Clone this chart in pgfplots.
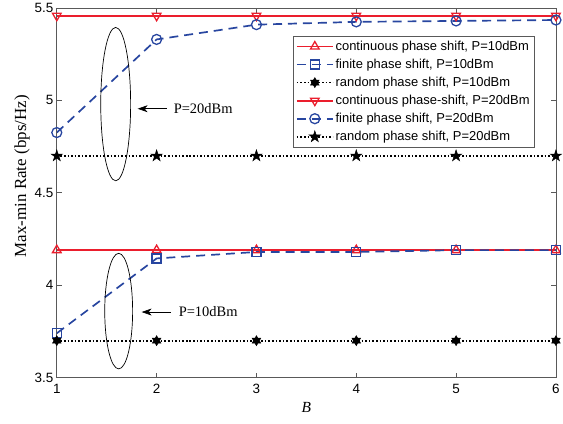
\documentclass[border=0pt]{standalone}
\usepackage{pgfplots}
\pgfplotsset{compat=1.18}
\usepackage{fontspec}
\setmainfont{Liberation Sans}
\newfontfamily\seriffont{Liberation Serif}
\usetikzlibrary{arrows.meta}
\definecolor{mred}{RGB}{235,30,45}
\definecolor{mblue}{RGB}{40,70,160}
\pgfdeclareplotmark{pentastar}{%
  \pgfpathmoveto{\pgfpointpolar{90}{\pgfplotmarksize}}%
  \pgfpathlineto{\pgfpointpolar{126}{0.382\pgfplotmarksize}}%
  \pgfpathlineto{\pgfpointpolar{162}{\pgfplotmarksize}}%
  \pgfpathlineto{\pgfpointpolar{198}{0.382\pgfplotmarksize}}%
  \pgfpathlineto{\pgfpointpolar{234}{\pgfplotmarksize}}%
  \pgfpathlineto{\pgfpointpolar{270}{0.382\pgfplotmarksize}}%
  \pgfpathlineto{\pgfpointpolar{306}{\pgfplotmarksize}}%
  \pgfpathlineto{\pgfpointpolar{342}{0.382\pgfplotmarksize}}%
  \pgfpathlineto{\pgfpointpolar{18}{\pgfplotmarksize}}%
  \pgfpathlineto{\pgfpointpolar{54}{0.382\pgfplotmarksize}}%
  \pgfpathclose\pgfusepathqfillstroke}
\pgfdeclareplotmark{hexastar}{%
  \pgfpathmoveto{\pgfpointpolar{90}{\pgfplotmarksize}}%
  \pgfpathlineto{\pgfpointpolar{120}{0.577\pgfplotmarksize}}%
  \pgfpathlineto{\pgfpointpolar{150}{\pgfplotmarksize}}%
  \pgfpathlineto{\pgfpointpolar{180}{0.577\pgfplotmarksize}}%
  \pgfpathlineto{\pgfpointpolar{210}{\pgfplotmarksize}}%
  \pgfpathlineto{\pgfpointpolar{240}{0.577\pgfplotmarksize}}%
  \pgfpathlineto{\pgfpointpolar{270}{\pgfplotmarksize}}%
  \pgfpathlineto{\pgfpointpolar{300}{0.577\pgfplotmarksize}}%
  \pgfpathlineto{\pgfpointpolar{330}{\pgfplotmarksize}}%
  \pgfpathlineto{\pgfpointpolar{0}{0.577\pgfplotmarksize}}%
  \pgfpathlineto{\pgfpointpolar{30}{\pgfplotmarksize}}%
  \pgfpathlineto{\pgfpointpolar{60}{0.577\pgfplotmarksize}}%
  \pgfpathclose\pgfusepathqfillstroke}
\begin{document}
\begin{tikzpicture}[x=1pt,y=1pt]
\begin{axis}[
  scale only axis,
  width=501pt, height=371pt,
  xmin=1, xmax=6, ymin=3.5, ymax=5.5,
  xtick={1,2,3,4,5,6},
  ytick={3.5,4,4.5,5,5.5},
  yticklabels={3.5,4,4.5,5,5.5},
  tick align=inside,
  major tick length=5pt,
  axis line style={black!65, line width=0.7pt},
  tick style={black!65, line width=0.7pt},
  tick label style={font=\fontsize{13.5}{15}\selectfont},
  xticklabel style={yshift=-3pt},
  /pgf/number format/assume math mode=true,
  xlabel={\seriffont\itshape B},
  ylabel={\seriffont Max-min Rate (bps/Hz)},
  xlabel style={font=\fontsize{15.5}{17}\selectfont, yshift=-2pt},
  ylabel style={font=\fontsize{17}{19}\selectfont, at={(ticklabel cs:0.545)}, yshift=-2pt},
  legend style={at={(rel axis cs:0.958,0.925)}, anchor=north east,
    font=\fontsize{13}{15}\selectfont, draw=black!65, line width=0.7pt,
    row sep=3.2pt, inner sep=3pt},
  legend cell align=left,
  legend image code/.code={
    \draw[#1] (0pt,0pt) -- (36pt,0pt);
    \draw[#1, solid] plot coordinates {(18pt,0pt)};
  },
]
\addplot[mred, line width=1.7pt, mark=triangle, mark size=5pt, mark options={solid, line width=1.3pt}]
  coordinates {(1,4.19) (2,4.19) (3,4.19) (4,4.19) (5,4.19) (6,4.19)};
\addlegendentry{continuous phase shift, P=10dBm}
\addplot[mblue, line width=1.7pt, dash pattern=on 9pt off 6pt, mark=square, mark size=4.5pt, mark options={solid, line width=1.3pt}]
  coordinates {(1,3.74) (2,4.145) (3,4.18) (4,4.18) (5,4.19) (6,4.19)};
\addlegendentry{finite phase shift, P=10dBm}
\addplot[black, line width=1.7pt, dash pattern=on 1.6pt off 2pt, mark=hexastar, mark size=5pt, mark options={solid, fill=black, line width=0.5pt}]
  coordinates {(1,3.70) (2,3.70) (3,3.70) (4,3.70) (5,3.70) (6,3.70)};
\addlegendentry{random phase shift, P=10dBm}
\addplot[mred, line width=1.7pt, mark=triangle, mark size=5pt, mark options={solid, line width=1.3pt, rotate=180}]
  coordinates {(1,5.458) (2,5.458) (3,5.458) (4,5.458) (5,5.458) (6,5.458)};
\addlegendentry{continuous phase-shift, P=20dBm}
\addplot[mblue, line width=1.7pt, dash pattern=on 9pt off 6pt, mark=o, mark size=5pt, mark options={solid, line width=1.3pt}]
  coordinates {(1,4.826) (2,5.33) (3,5.41) (4,5.425) (5,5.43) (6,5.435)};
\addlegendentry{finite phase shift, P=20dBm}
\addplot[black, line width=1.7pt, dash pattern=on 1.6pt off 2pt, mark=pentastar, mark size=6pt, mark options={solid, fill=black, line width=0.5pt}]
  coordinates {(1,4.70) (2,4.70) (3,4.70) (4,4.70) (5,4.70) (6,4.70)};
\addlegendentry{random phase shift, P=20dBm}
% annotations
\draw[black, line width=0.7pt] (axis cs:1.59,4.98) ellipse [x radius=15pt, y radius=77pt];
\draw[black, line width=0.7pt] (axis cs:1.62,3.86) ellipse [x radius=14pt, y radius=58pt];
\draw[black, line width=0.7pt, -{Stealth[length=10pt,width=7pt,inset=3pt]}] (axis cs:2.1,4.955) -- (axis cs:1.81,4.955);
\node[anchor=west, inner sep=0pt, font=\seriffont\fontsize{14.5}{16}\selectfont] at (axis cs:2.17,4.955) {P=20dBm};
\draw[black, line width=0.7pt, -{Stealth[length=10pt,width=7pt,inset=3pt]}] (axis cs:2.14,3.855) -- (axis cs:1.85,3.855);
\node[anchor=west, inner sep=0pt, font=\seriffont\fontsize{14.5}{16}\selectfont] at (axis cs:2.22,3.855) {P=10dBm};
\end{axis}
\path (-57pt,-46pt) rectangle (506pt,378pt);
\end{tikzpicture}
\end{document}
